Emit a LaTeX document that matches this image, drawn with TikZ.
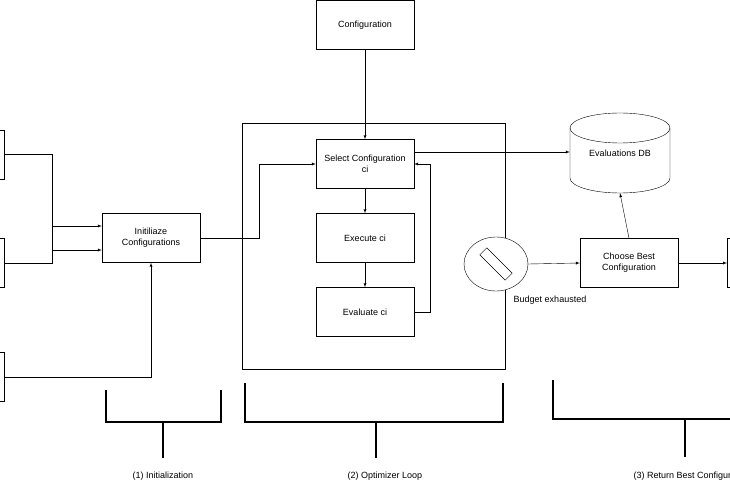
\documentclass[tikz,border=0pt]{standalone}
\usepackage{fontspec}
\setmainfont{Liberation Sans}
\usetikzlibrary{positioning,arrows,shapes,calc}
\tikzset{box/.style={draw, minimum width=98pt, minimum height=49pt, align=center, inner sep=1pt},
  arr/.style={-latex, thin}, brk/.style={line width=1.2pt}}

\begin{document}
\begin{tikzpicture}[x=1pt,y=-1pt,font=\fontsize{9}{11}\selectfont]
\useasboundingbox (0,0) rectangle (730,486);
\clip (0,0) rectangle (730,486);
% inputs cut at the left
\node[box,anchor=north east] (in1) at (4,130) {};
\node[box,anchor=north east] (in2) at (4,238) {};
\node[box,anchor=north east] (in3) at (4,352) {};
\node[box] (init) at (151,238) {Initiliaze\\Configurations};
% optimizer loop
\draw (242,123) rectangle (505,369);
\node[box] (conf) at (365,25) {Configuration};
\node[box] (sel) at (365,164) {Select Configuration\\ci};
\node[box] (exe) at (365,238) {Execute ci};
\node[box] (eval) at (365,312) {Evaluate ci};
% result
\draw (570,128) arc[start angle=180, end angle=0, x radius=50, y radius=-15]
  -- (670,178) arc[start angle=0, end angle=-180, x radius=50, y radius=-15] -- cycle;
\draw (570,128) arc[start angle=180, end angle=360, x radius=50, y radius=-15];
\node[minimum width=100pt, minimum height=80pt] (db) at (620,153) {};
\node at (620,153) {Evaluations DB};
\node[draw, ellipse, minimum width=64pt, minimum height=54pt, fill=white] (stop) at (496,264) {};
\draw[fill=white] ($(stop.center)+(-9.2,-16.2)$) -- ++(25.4,25.4) -- ++(-7,7) -- ++(-25.4,-25.4) -- cycle;
\node[anchor=north] (budget) at (550,292) {Budget exhausted};
\node[box] (best) at (629,263) {Choose Best\\Configuration};
\node[box,anchor=west] (out) at (727,263) {};

\draw[arr] (in1.east) -- ++(48,0) |- ([yshift=-12]init.west);
\draw[arr] (in2.east) -- ++(48,0) |- ([yshift=12]init.west);
\draw[arr] (in3.east) -| (init.south);
\draw[arr] (init.east) -- ++(59,0) |- (sel.west);
\draw[arr] (conf) -- (sel);
\draw[arr] (sel) -- (exe);
\draw[arr] (exe) -- (eval);
\draw[arr] (eval.east) -- ++(16,0) |- (sel.east);
\draw[arr] ([yshift=12]sel.east) -- (db.west |- 0,152);
\draw[arr] (stop.east) -- (best.west);
\draw[arr] (best.north) -- (db.south);
\draw[arr] (best.east) -- (out.west);

% brackets
\draw[brk] (106,390) -- (106,422) -- (221,422) -- (221,390);
\draw[brk] (163,422) -- (163,458);
\draw[brk] (245,383) -- (245,422) -- (503,422) -- (503,383);
\draw[brk] (376,422) -- (376,458);
\draw[brk] (553,380) -- (553,419) -- (740,419);
\draw[brk] (685,419) -- (685,457);
\node (l1) at (163,476) {(1) Initialization};
\node (l2) at (385,476) {(2) Optimizer Loop};
\node[anchor=west] (l3) at (630,476) {(3) Return Best Configuration};
\end{tikzpicture}
\end{document}
